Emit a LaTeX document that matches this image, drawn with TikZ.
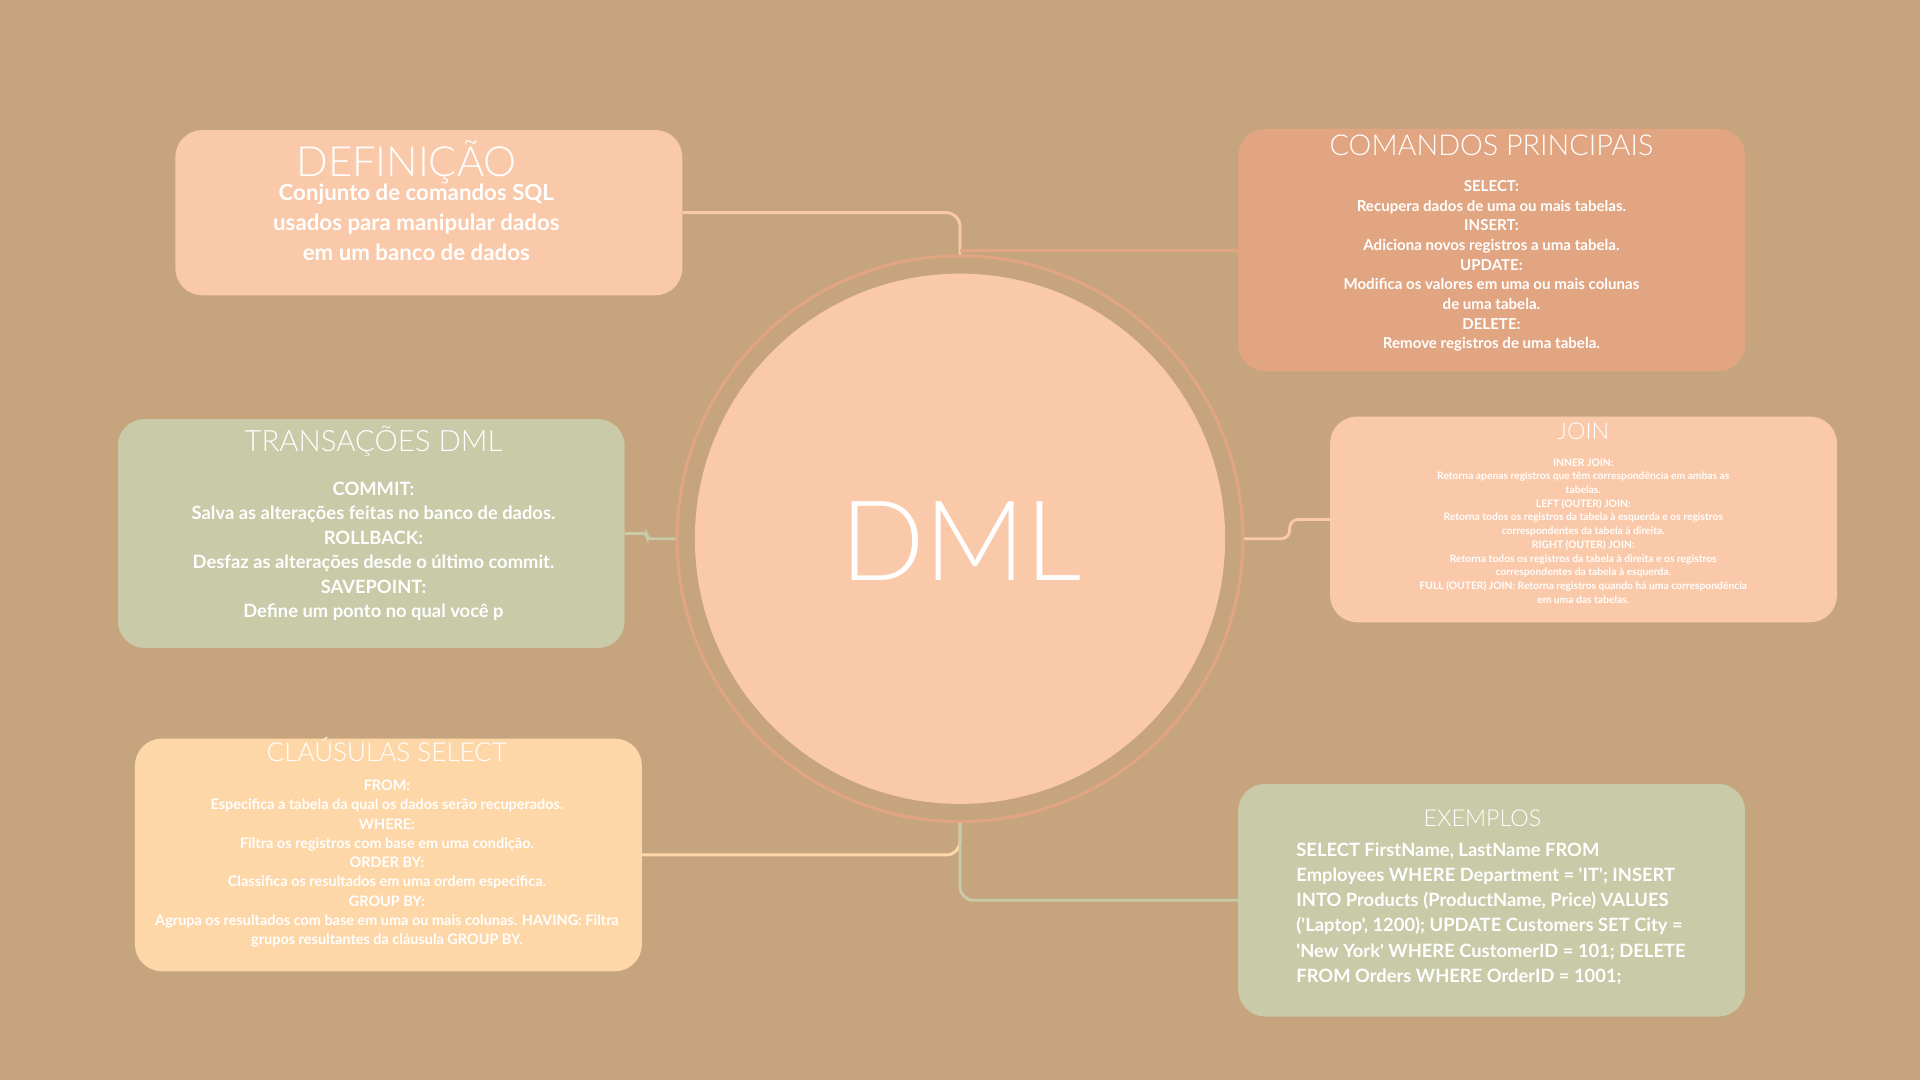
\documentclass[tikz,border=0pt]{standalone}
\usepackage{fontspec}
\setmainfont{Lato}
\newfontfamily\exfont{Lato}[Ligatures=TeXOff]
\IfFontExistsTF{Lato Light}{\newfontfamily\lightfont{Lato Light}}{\newfontfamily\lightfont{Lato}}
\definecolor{bgtan}{HTML}{C6A47E}
\definecolor{peach}{HTML}{F9C9A9}
\definecolor{salmon}{HTML}{E2A582}
\definecolor{sage}{HTML}{C8CAA8}
\definecolor{lorange}{HTML}{FED7A8}
\newcommand{\fsz}[2]{\fontsize{#1}{#2}\selectfont}
\begin{document}
\begin{tikzpicture}[x=1pt,y=-1pt,
  box/.style={rounded corners=22pt, minimum width=414pt, inner sep=0pt, anchor=north west, draw=none},
  ttl/.style={anchor=base, inner sep=0pt, text=white, font=\lightfont},
  bdy/.style={anchor=base, inner sep=0pt, text=white, align=center},
  conn/.style={line width=2.4pt, rounded corners=11pt}]
\fill[bgtan] (0,0) rectangle (1568,882);
\useasboundingbox (0,0) rectangle (1568,882);

% center
\node[circle, draw=salmon, line width=2.5pt, minimum size=462pt, inner sep=0pt] (ring) at (784,440) {};
\node[circle, fill=peach, minimum size=433pt, inner sep=0pt] (dml) at (784,440) {};
\node[ttl, font={\lightfont\fsz{91}{91}}] (dmltxt) at (785,474) {DML};

% boxes
\node[box, fill=peach, minimum height=135pt] (def) at (143,106) {};
\node[box, fill=salmon, minimum height=198pt] (cmd) at (1011,105) {};
\node[box, fill=peach, minimum height=168pt] (join) at (1086,340) {};
\node[box, fill=sage, minimum height=187pt] (trans) at (96,342) {};
\node[box, fill=lorange, minimum height=190pt] (cl) at (110,603) {};
\node[box, fill=sage, minimum height=190pt] (ex) at (1011,640) {};

% connectors
\draw[conn, peach] (def.east) -| (ring.north);
\draw[conn, salmon, rounded corners=0pt] (cmd.west) -- (cmd.west -| ring.north);
\draw[conn, sage, rounded corners=3pt] (trans.east) -- ++(18,0) |- (ring.west);
\draw[conn, peach, rounded corners=7pt] (ring.east) -- ++(37,0) |- (join.west);
\draw[conn, lorange] (cl.east) -| (ring.south);
\draw[conn, sage] (ring.south) |- (ex.west);

% texts (base anchor = baseline of last line)
\node[ttl, font={\lightfont\fsz{34}{34}}] (deft) at (332,144.3) {DEFINIÇÃO};
\node[bdy, font={\bfseries\fsz{18.2}{24.5}}] (defb) at (340,212.4) {Conjunto de comandos SQL\\usados para manipular dados\\em um banco de dados};

\node[ttl, font={\lightfont\fsz{23.5}{23.5}}] (cmdt) at (1218,126.6) {COMANDOS PRINCIPAIS};
\node[bdy, font={\bfseries\fsz{12.3}{16.06}}] (cmdb) at (1218,285.0) {SELECT:\\Recupera dados de uma ou mais tabelas.\\INSERT:\\Adiciona novos registros a uma tabela.\\UPDATE:\\Modifica os valores em uma ou mais colunas\\de uma tabela.\\DELETE:\\Remove registros de uma tabela.};

\node[ttl, font={\lightfont\fsz{19}{19}}] (joint) at (1293,358.8) {JOIN};
\node[bdy, font={\bfseries\fsz{8.4}{11.2}}] (joinb) at (1293,492.6) {INNER JOIN:\\Retorna apenas registros que têm correspondência em ambas as\\tabelas.\\LEFT (OUTER) JOIN:\\Retorna todos os registros da tabela à esquerda e os registros\\correspondentes da tabela à direita.\\RIGHT (OUTER) JOIN:\\Retorna todos os registros da tabela à direita e os registros\\correspondentes da tabela à esquerda.\\FULL (OUTER) JOIN: Retorna registros quando há uma correspondência\\em uma das tabelas.};

\node[ttl, font={\lightfont\fsz{24}{24}}] (transt) at (305,369) {TRANSAÇÕES DML};
\node[bdy, font={\bfseries\fsz{15}{20}}] (transb) at (305,504.5) {COMMIT:\\Salva as alterações feitas no banco de dados.\\ROLLBACK:\\Desfaz as alterações desde o último commit.\\SAVEPOINT:\\Define um ponto no qual você p};

\node[ttl, font={\lightfont\fsz{21.3}{21.3}}] (clt) at (316,621.5) {CLAÚSULAS SELECT};
\node[bdy, font={\bfseries\fsz{11.8}{15.7}}] (clb) at (316,771.3) {FROM:\\Especifica a tabela da qual os dados serão recuperados.\\WHERE:\\Filtra os registros com base em uma condição.\\ORDER BY:\\Classifica os resultados em uma ordem específica.\\GROUP BY:\\Agrupa os resultados com base em uma ou mais colunas. HAVING: Filtra\\grupos resultantes da cláusula GROUP BY.};

\node[ttl, font={\lightfont\fsz{19}{19}}] (ext) at (1210.6,674.6) {EXEMPLOS};
\node[bdy, anchor=base west, align=left, font={\exfont\bfseries\fsz{15}{20.5}}] (exb) at (1058.5,802.1) {SELECT FirstName, LastName FROM\\Employees WHERE Department = 'IT'; INSERT\\INTO Products (ProductName, Price) VALUES\\('Laptop', 1200); UPDATE Customers SET City =\\'New York' WHERE CustomerID = 101; DELETE\\FROM Orders WHERE OrderID = 1001;};
\end{tikzpicture}
\end{document}
